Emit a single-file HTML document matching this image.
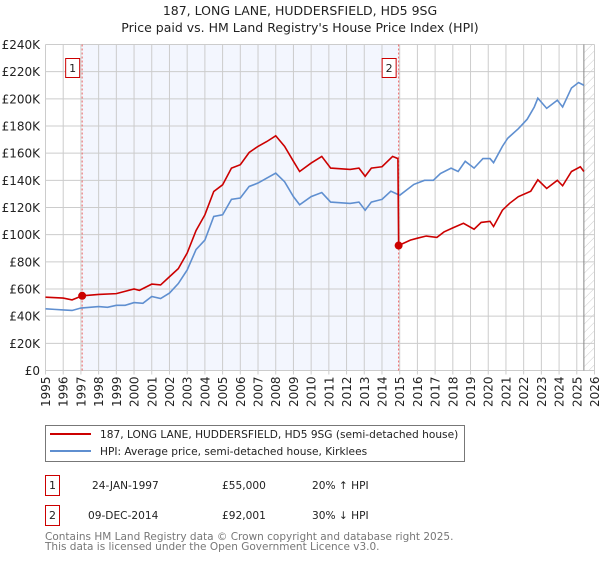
<!DOCTYPE html>
<html><head><meta charset="utf-8"><style>
body{margin:0;background:#fff;font-family:"DejaVu Sans","Liberation Sans",sans-serif;}
svg text{font-family:"DejaVu Sans","Liberation Sans",sans-serif;}
</style></head><body>
<svg id="c" width="600" height="560" xmlns="http://www.w3.org/2000/svg">
<defs><pattern id="hatch" width="6" height="6" patternUnits="userSpaceOnUse" patternTransform="rotate(45)"><line x1="0" y1="0" x2="0" y2="6" stroke="#ccc" stroke-width="1"/></pattern></defs>
<text x="300" y="15" text-anchor="middle" font-size="12.5" fill="#222">187, LONG LANE, HUDDERSFIELD, HD5 9SG</text>
<text x="300" y="32" text-anchor="middle" font-size="12.5" fill="#222">Price paid vs. HM Land Registry's House Price Index (HPI)</text>
<g id="plot"></g>
<rect x="45.5" y="425.5" width="419" height="36" fill="#fff" stroke="#777"/>
<line x1="50" y1="434" x2="91" y2="434" stroke="#cc0000" stroke-width="2"/>
<text x="100" y="438" font-size="10.6" fill="#222">187, LONG LANE, HUDDERSFIELD, HD5 9SG (semi-detached house)</text>
<line x1="50" y1="451" x2="91" y2="451" stroke="#5f8fd0" stroke-width="2"/>
<text x="100" y="455" font-size="10.6" fill="#222">HPI: Average price, semi-detached house, Kirklees</text>
<rect x="45.5" y="475.5" width="14" height="20" fill="#fff" stroke="#cc0000"/>
<text x="52.5" y="489" text-anchor="middle" font-size="11" fill="#222">1</text>
<text x="92" y="489" font-size="10.6" fill="#222">24-JAN-1997</text>
<text x="222" y="489" font-size="10.6" fill="#222">£55,000</text>
<text x="312" y="489" font-size="10.6" fill="#222">20% ↑ HPI</text>
<rect x="45.5" y="505.5" width="14" height="20" fill="#fff" stroke="#cc0000"/>
<text x="52.5" y="519" text-anchor="middle" font-size="11" fill="#222">2</text>
<text x="88" y="519" font-size="10.6" fill="#222">09-DEC-2014</text>
<text x="222" y="519" font-size="10.6" fill="#222">£92,001</text>
<text x="312" y="519" font-size="10.6" fill="#222">30% ↓ HPI</text>
<text x="45" y="540" font-size="10.5" fill="#777">Contains HM Land Registry data © Crown copyright and database right 2025.</text>
<text x="45" y="550" font-size="10.5" fill="#777">This data is licensed under the Open Government Licence v3.0.</text>
</svg>
<script>
const yTicks=[0,20,40,60,80,100,120,140,160,180,200,220,240];
const xYears=[1995,1996,1997,1998,1999,2000,2001,2002,2003,2004,2005,2006,2007,2008,2009,2010,2011,2012,2013,2014,2015,2016,2017,2018,2019,2020,2021,2022,2023,2024,2025,2026];
const hpiT=[1995,1995.5,1996,1996.5,1997,1997.5,1998,1998.5,1999,1999.5,2000,2000.5,2001,2001.5,2002,2002.5,2003,2003.5,2004,2004.5,2005,2005.5,2006,2006.5,2007,2007.5,2008,2008.5,2009,2009.35,2010,2010.6,2011.1,2012.2,2012.7,2013.05,2013.4,2014,2014.5,2015,2015.8,2016.4,2016.9,2017.3,2017.9,2018.3,2018.7,2019.2,2019.7,2020.1,2020.3,2020.8,2021.1,2021.7,2022.2,2022.6,2022.8,2023.3,2023.9,2024.2,2024.7,2025.1,2025.4];
const hpiV=[45.4,45,44.6,44.2,46,46.5,47.1,46.5,48,48,50,49.5,54.5,53,57,64,74,89,96,113.4,114.6,126,127,135.5,138,141.7,145.3,139,128,122,128,131,124,123,124,118,124,126,132,129,137,140,140,145,149,146.5,154,149,156,156,153,165,171,178,185,194,200.5,193,199,194,208,212,210];
const priceT=[1995,1996,1996.5,1997.07,1998,1999,2000,2000.3,2001,2001.5,2002,2002.5,2003,2003.5,2004,2004.5,2005,2005.5,2006,2006.5,2007,2007.5,2008,2008.5,2009,2009.35,2010,2010.6,2011.1,2012.2,2012.7,2013.05,2013.4,2014,2014.6,2014.9,2014.94,2015.6,2016,2016.5,2017.1,2017.5,2018,2018.6,2019.2,2019.6,2020.1,2020.3,2020.8,2021.2,2021.7,2022.4,2022.8,2023.3,2023.9,2024.2,2024.7,2025.2,2025.4];
const priceV=[54,53.3,52,55,56,56.6,60,59,63.6,63,69,75,86.5,103,114.6,131.8,136.7,149,151.5,160.5,165,168.6,172.8,165,154,146.5,152.7,157.6,149,148,149,143,149,150,157.6,156,92,96,97.4,99,98,102,105,108.4,104,109,109.8,106,118,123,128,132,140.4,134,140,136,146.5,150,146.5];
const sales=[{n:"1",t:1997.07,v:55},{n:"2",t:2014.94,v:92}];
const X0=45.5,X1=594.5,Y0=370.5,Y1=44.5;
const x=t=>X0+(t-1995)/(2026-1995)*(X1-X0);
const y=v=>Y0-v/240*(Y0-Y1);
const NS="http://www.w3.org/2000/svg";
const g=document.getElementById('plot');
function mk(tag,attrs){const e=document.createElementNS(NS,tag);for(const k in attrs)e.setAttribute(k,attrs[k]);g.appendChild(e);return e;}
let e;
e=mk('rect',{x:x(1997.07),y:Y1,width:x(2014.94)-x(1997.07),height:Y0-Y1,fill:'#f3f6fe'});


e=mk('rect',{x:x(2025.4),y:Y1,width:X1-x(2025.4),height:Y0-Y1,fill:'url(#hatch)'});


yTicks.forEach(v=>{
 e=mk('line',{x1:X0,x2:X1,y1:y(v),y2:y(v),stroke:'#cccccc','stroke-width':1});
 
 
 e=mk('text',{x:40,y:y(v)+4.5,'text-anchor':'end','font-size':'12',fill:'#222'});
 e.textContent=v===0?'£0':'£'+v+'K';
 
 
});
xYears.forEach(yr=>{
 e=mk('line',{x1:x(yr),x2:x(yr),y1:Y1,y2:Y0+4,stroke:'#cccccc','stroke-width':1});
 
 
 e=mk('text',{x:0,y:0,'text-anchor':'end','font-size':'12',fill:'#222',transform:`translate(${x(yr)+4.5},${Y0+6}) rotate(-90)`});
 e.textContent=yr;
 
 
});
e=mk('line',{x1:x(2025.4),x2:x(2025.4),y1:Y1,y2:Y0,stroke:'#888','stroke-width':1});


sales.forEach(s=>{
 e=mk('line',{x1:x(s.t),x2:x(s.t),y1:Y1,y2:Y0,stroke:'#ee6666','stroke-width':1,'stroke-dasharray':'2,2'});
 
 
});
e=mk('polyline',{points:hpiT.map((t,i)=>x(t)+','+y(hpiV[i])).join(' '),fill:'none',stroke:'#5f8fd0','stroke-width':1.6});


e=mk('polyline',{points:priceT.map((t,i)=>x(t)+','+y(priceV[i])).join(' '),fill:'none',stroke:'#cc0000','stroke-width':1.6});


sales.forEach(s=>{
 e=mk('circle',{cx:x(s.t),cy:y(s.v),r:4,fill:'#cc0000'});
 
 
 const bx=x(s.t)-16;
 e=mk('rect',{x:bx-0.5,y:58.5,width:14,height:19,fill:'#fff',stroke:'#cc0000'});
 
 
 e=mk('text',{x:bx+6.5,y:72,'text-anchor':'middle','font-size':'11',fill:'#222'});
 e.textContent=s.n;
 
 
});
</script>
</body></html>
